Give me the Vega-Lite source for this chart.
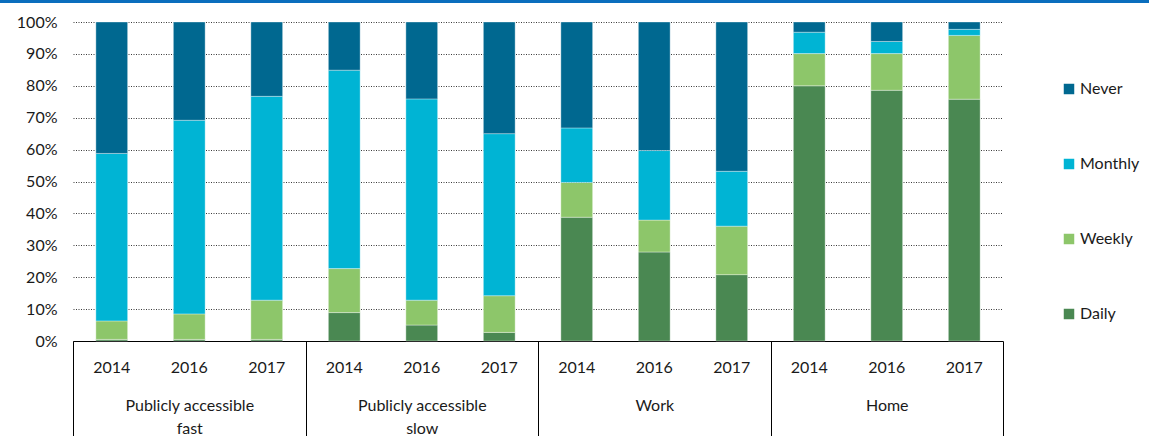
{
  "$schema": "https://vega.github.io/schema/vega-lite/v6.json",
  "autosize": "none",
  "width": 930,
  "height": 319,
  "padding": {"left": 73, "top": 22, "right": 146, "bottom": 95},
  "background": "white",
  "config": {
    "font": "Lato",
    "view": {"stroke": null},
    "axis": {"labelFont": "Lato", "labelColor": "#1a1a1a"},
    "axisY": {
      "values": [0, 0.1, 0.2, 0.3, 0.4, 0.5, 0.6, 0.7, 0.8, 0.9, 1],
      "labelOverlap": false,
      "format": ".0%",
      "domain": false,
      "ticks": false,
      "labelPadding": 16,
      "labelFontSize": 16,
      "grid": true,
      "gridColor": "#3a3a3a",
      "gridDash": [1, 1.5],
      "gridWidth": 1,
      "title": null
    },
    "legend": {"labelFont": "Lato"}
  },
  "data": {
    "values": [
      {"group": "Publicly accessible fast", "year": "2014", "freq": "Daily", "pct": 0.5},
      {"group": "Publicly accessible fast", "year": "2014", "freq": "Weekly", "pct": 5.8},
      {"group": "Publicly accessible fast", "year": "2014", "freq": "Monthly", "pct": 52.5},
      {"group": "Publicly accessible fast", "year": "2014", "freq": "Never", "pct": 41.2},
      {"group": "Publicly accessible fast", "year": "2016", "freq": "Daily", "pct": 0.5},
      {"group": "Publicly accessible fast", "year": "2016", "freq": "Weekly", "pct": 8.0},
      {"group": "Publicly accessible fast", "year": "2016", "freq": "Monthly", "pct": 60.7},
      {"group": "Publicly accessible fast", "year": "2016", "freq": "Never", "pct": 30.8},
      {"group": "Publicly accessible fast", "year": "2017", "freq": "Daily", "pct": 0.5},
      {"group": "Publicly accessible fast", "year": "2017", "freq": "Weekly", "pct": 12.3},
      {"group": "Publicly accessible fast", "year": "2017", "freq": "Monthly", "pct": 63.9},
      {"group": "Publicly accessible fast", "year": "2017", "freq": "Never", "pct": 23.3},
      {"group": "Publicly accessible slow", "year": "2014", "freq": "Daily", "pct": 8.9},
      {"group": "Publicly accessible slow", "year": "2014", "freq": "Weekly", "pct": 13.8},
      {"group": "Publicly accessible slow", "year": "2014", "freq": "Monthly", "pct": 62.2},
      {"group": "Publicly accessible slow", "year": "2014", "freq": "Never", "pct": 15.1},
      {"group": "Publicly accessible slow", "year": "2016", "freq": "Daily", "pct": 5.0},
      {"group": "Publicly accessible slow", "year": "2016", "freq": "Weekly", "pct": 7.8},
      {"group": "Publicly accessible slow", "year": "2016", "freq": "Monthly", "pct": 63.1},
      {"group": "Publicly accessible slow", "year": "2016", "freq": "Never", "pct": 24.1},
      {"group": "Publicly accessible slow", "year": "2017", "freq": "Daily", "pct": 2.7},
      {"group": "Publicly accessible slow", "year": "2017", "freq": "Weekly", "pct": 11.5},
      {"group": "Publicly accessible slow", "year": "2017", "freq": "Monthly", "pct": 50.8},
      {"group": "Publicly accessible slow", "year": "2017", "freq": "Never", "pct": 35.0},
      {"group": "Work", "year": "2014", "freq": "Daily", "pct": 38.8},
      {"group": "Work", "year": "2014", "freq": "Weekly", "pct": 10.9},
      {"group": "Work", "year": "2014", "freq": "Monthly", "pct": 17.1},
      {"group": "Work", "year": "2014", "freq": "Never", "pct": 33.2},
      {"group": "Work", "year": "2016", "freq": "Daily", "pct": 27.9},
      {"group": "Work", "year": "2016", "freq": "Weekly", "pct": 10.0},
      {"group": "Work", "year": "2016", "freq": "Monthly", "pct": 21.8},
      {"group": "Work", "year": "2016", "freq": "Never", "pct": 40.3},
      {"group": "Work", "year": "2017", "freq": "Daily", "pct": 20.8},
      {"group": "Work", "year": "2017", "freq": "Weekly", "pct": 15.2},
      {"group": "Work", "year": "2017", "freq": "Monthly", "pct": 17.2},
      {"group": "Work", "year": "2017", "freq": "Never", "pct": 46.8},
      {"group": "Home", "year": "2014", "freq": "Daily", "pct": 80.0},
      {"group": "Home", "year": "2014", "freq": "Weekly", "pct": 10.1},
      {"group": "Home", "year": "2014", "freq": "Monthly", "pct": 6.7},
      {"group": "Home", "year": "2014", "freq": "Never", "pct": 3.2},
      {"group": "Home", "year": "2016", "freq": "Daily", "pct": 78.6},
      {"group": "Home", "year": "2016", "freq": "Weekly", "pct": 11.5},
      {"group": "Home", "year": "2016", "freq": "Monthly", "pct": 3.8},
      {"group": "Home", "year": "2016", "freq": "Never", "pct": 6.1},
      {"group": "Home", "year": "2017", "freq": "Daily", "pct": 75.8},
      {"group": "Home", "year": "2017", "freq": "Weekly", "pct": 20.0},
      {"group": "Home", "year": "2017", "freq": "Monthly", "pct": 1.9},
      {"group": "Home", "year": "2017", "freq": "Never", "pct": 2.3}
    ]
  },
  "layer": [
    {
      "transform": [
        {"calculate": "indexof(['Daily', 'Weekly', 'Monthly', 'Never'], datum.freq)", "as": "stackOrder"}
      ],
      "mark": {"type": "bar", "stroke": "#ffffff", "strokeWidth": 0.5, "strokeOpacity": 0.7},
      "encoding": {
        "x": {
          "field": "group",
          "type": "nominal",
          "sort": ["Publicly accessible fast", "Publicly accessible slow", "Work", "Home"],
          "scale": {"paddingInner": 0, "paddingOuter": 0},
          "axis": {
            "orient": "bottom",
            "title": null,
            "domainColor": "#000000",
            "domainWidth": 1,
            "tickBand": "extent",
            "tickColor": "#000000",
            "tickSize": 95,
            "tickWidth": 1,
            "labelAngle": 0,
            "labelFontSize": 16,
            "labelPadding": -39,
            "labelLineHeight": 23,
            "labelExpr": "datum.value == 'Publicly accessible fast' ? ['Publicly accessible', 'fast'] : datum.value == 'Publicly accessible slow' ? ['Publicly accessible', 'slow'] : datum.value",
            "grid": false
          }
        },
        "xOffset": {
          "field": "year",
          "type": "nominal",
          "scale": {"paddingInner": 0.59, "paddingOuter": 0.295}
        },
        "y": {
          "field": "pct",
          "type": "quantitative",
          "stack": "normalize",
          "scale": {"domain": [0, 1]}
        },
        "order": {"field": "stackOrder", "type": "quantitative", "sort": "ascending"},
        "color": {
          "field": "freq",
          "type": "nominal",
          "scale": {
            "domain": ["Never", "Monthly", "Weekly", "Daily"],
            "range": ["#006890", "#00b4d4", "#8dc66a", "#4a8852"]
          },
          "legend": {
            "title": null,
            "orient": "none",
            "legendX": 988,
            "legendY": 59,
            "padding": 0,
            "symbolType": "square",
            "symbolSize": 110,
            "symbolStrokeWidth": 0,
            "labelFontSize": 16,
            "labelColor": "#1a1a1a",
            "labelOffset": 3,
            "rowPadding": 59
          }
        }
      }
    },
    {
      "transform": [{"filter": "datum.freq == 'Daily'"}],
      "mark": {"type": "text", "fontSize": 16, "color": "#1a1a1a", "baseline": "middle", "clip": false},
      "encoding": {
        "x": {"field": "group", "type": "nominal", "sort": ["Publicly accessible fast", "Publicly accessible slow", "Work", "Home"]},
        "xOffset": {"field": "year", "type": "nominal"},
        "y": {"datum": -0.0845},
        "text": {"field": "year"}
      }
    },
    {
      "mark": {"type": "rule", "color": "#0a6ebd", "strokeWidth": 3},
      "encoding": {
        "x": {"value": -73},
        "x2": {"value": 1076},
        "y": {"value": -21}
      }
    }
  ]
}
